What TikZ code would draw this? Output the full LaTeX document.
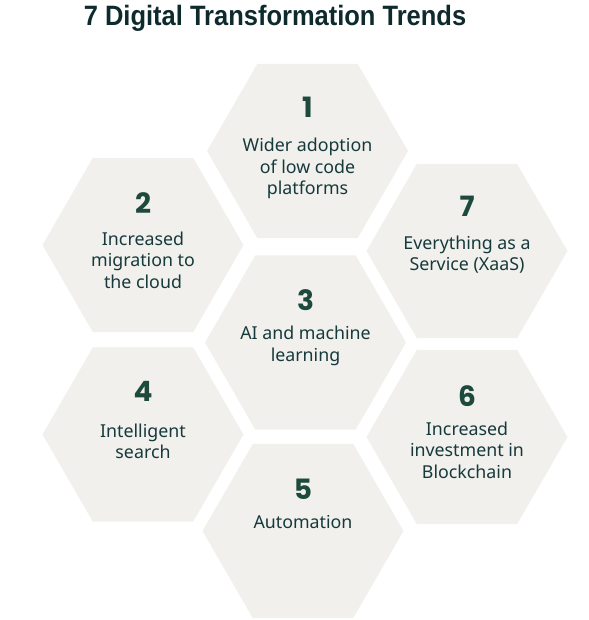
\documentclass[tikz,border=0pt]{standalone}
\usepackage{fontspec}
\setmainfont{Noto Sans}
\newfontfamily\numfont{Poppins}[UprightFont=* Bold]
\newfontfamily\titlefont{Liberation Sans}[UprightFont=* Bold, FakeStretch=0.91]
\usetikzlibrary{shapes.geometric}
\definecolor{hexfill}{HTML}{F1F0ED}
\definecolor{numcol}{HTML}{1E4A3D}
\definecolor{txtcol}{HTML}{163A3C}
\definecolor{titlecol}{HTML}{0E2A2D}
\tikzset{
  hexbox/.style={regular polygon, regular polygon sides=6,
    minimum size=201pt, inner sep=0pt, fill=hexfill, draw=none},
  numlabel/.style={anchor=base, inner sep=0pt, text=numcol, font=\numfont\fontsize{28}{28}\selectfont},
  txtlabel/.style={anchor=base, inner sep=0pt, text=txtcol, font=\fontsize{17.8}{21.5}\selectfont},
}
\newcommand{\hexlines}[1]{{\setlength{\tabcolsep}{0pt}\renewcommand{\arraystretch}{1}\begin{tabular}[t]{c}#1\end{tabular}}}
\begin{document}
\begin{tikzpicture}[x=1pt,y=-1pt]
\useasboundingbox (0,0) rectangle (588,620);
\node[anchor=base, inner sep=0pt, text=titlecol, font=\titlefont\fontsize{28}{28}\selectfont] (title) at (275,26) {7 Digital Transformation Trends};
\node[hexbox] (h1) at (307.5,151) {};
\node[hexbox] (h2) at (143,245) {};
\node[hexbox] (h3) at (305.5,342.5) {};
\node[hexbox] (h4) at (143,434.5) {};
\node[hexbox] (h5) at (303,531) {};
\node[hexbox] (h6) at (467,437) {};
\node[hexbox] (h7) at (467,251) {};
\node[numlabel] (n1) at ([yshift=33pt]h1.center) {1};
\node[numlabel] (n2) at ([yshift=32pt]h2.center) {2};
\node[numlabel] (n3) at ([yshift=32pt]h3.center) {3};
\node[numlabel] (n4) at ([yshift=33pt]h4.center) {4};
\node[numlabel] (n5) at ([yshift=32pt]h5.center) {5};
\node[numlabel] (n6) at ([yshift=31pt]h6.center) {6};
\node[numlabel] (n7) at ([yshift=34pt]h7.center) {7};
\node[txtlabel] (t1) at ([yshift=-1pt]h1.center) {\hexlines{Wider adoption\\of low code\\platforms}};
\node[txtlabel] (t2) at ([yshift=0pt]h2.center) {\hexlines{Increased\\migration to\\the cloud}};
\node[txtlabel] (t3) at ([yshift=3pt]h3.center) {\hexlines{AI and machine\\learning}};
\node[txtlabel] (t4) at ([yshift=-2.5pt]h4.center) {\hexlines{Intelligent\\search}};
\node[txtlabel] (t5) at ([yshift=3pt]h5.center) {\hexlines{Automation}};
\node[txtlabel] (t6) at ([yshift=2pt]h6.center) {\hexlines{Increased\\investment in\\Blockchain}};
\node[txtlabel] (t7) at ([yshift=2pt]h7.center) {\hexlines{Everything as a\\Service (XaaS)}};
\end{tikzpicture}
\end{document}
